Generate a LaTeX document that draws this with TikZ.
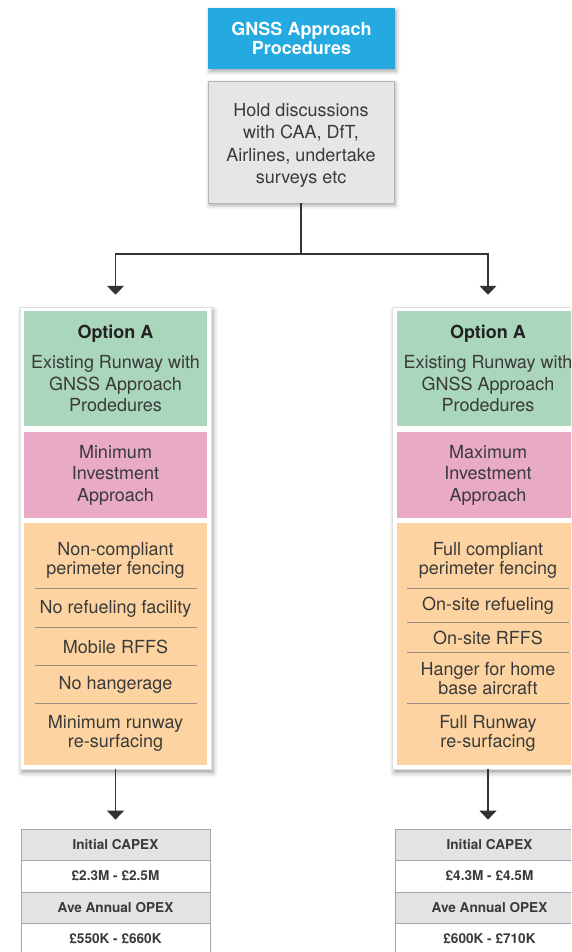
\documentclass[tikz,border=0pt]{standalone}
\usepackage{fontspec}
\setmainfont{TeX Gyre Heros}
\usetikzlibrary{arrows.meta,shadows.blur}

\definecolor{gnssblue}{HTML}{25A9E1}
\definecolor{boxgray}{HTML}{E6E6E7}
\definecolor{boxedge}{HTML}{B4B4B6}
\definecolor{optgreen}{HTML}{AAD6BB}
\definecolor{optpink}{HTML}{E8AAC4}
\definecolor{optorange}{HTML}{FDD4A1}
\definecolor{sepline}{HTML}{9A8E82}
\definecolor{inktext}{HTML}{3A3A3A}
\definecolor{darkink}{HTML}{222222}
\definecolor{headgray}{HTML}{E3E3E4}
\definecolor{tableedge}{HTML}{A6A6A8}
\definecolor{wire}{HTML}{333333}

\begin{document}
\begin{tikzpicture}[x=1pt,y=-1pt,
  bodyfont/.style={font=\fontsize{18}{21.5}\selectfont},
  softshadow/.style={blur shadow={shadow xshift=1.5pt,shadow yshift=-2.5pt,
      shadow blur radius=4pt,shadow opacity=35}},
  titlebox/.style={rectangle,fill=gnssblue,text=white,align=center,inner sep=0pt,
      minimum width=187pt,minimum height=61pt,softshadow,
      font=\bfseries\fontsize{18}{19}\selectfont},
  discussbox/.style={rectangle,fill=boxgray,draw=boxedge,line width=0.6pt,
      inner sep=0pt,minimum width=186pt,minimum height=122pt,softshadow},
  discusstext/.style={align=center,inner sep=0pt,text=inktext,
      font=\fontsize{18}{22.3}\selectfont},
  panel/.style={rectangle,fill=white,draw=black!12,line width=0.5pt,inner sep=0pt,
      minimum width=191pt,minimum height=462pt,
      blur shadow={shadow xshift=2pt,shadow yshift=-3.5pt,
      shadow blur radius=5pt,shadow opacity=40}},
  section/.style={rectangle,inner sep=0pt,minimum width=183pt,align=center,
      text=inktext,bodyfont},
  optionbox/.style={section,fill=optgreen,minimum height=115pt},
  approachbox/.style={section,fill=optpink,minimum height=86pt},
  itembox/.style={section,fill=optorange,minimum height=242pt},
  item/.style={align=center,inner sep=0pt,text=inktext,
      font=\fontsize{18}{19}\selectfont},
  sep/.style={draw=sepline,line width=0.8pt},
  cell/.style={rectangle,draw=tableedge,line width=0.8pt,inner sep=0pt,
      minimum width=189pt,text=inktext,font=\bfseries\fontsize{13.6}{15}\selectfont},
  headcell/.style={cell,fill=headgray,minimum height=31pt},
  valuecell/.style={cell,fill=white,minimum height=32pt},
  conn/.style={draw=wire,line width=1.2pt},
  arr/.style={conn,-{Triangle[width=17pt,length=9pt]}}
]
\useasboundingbox (0,0) rectangle (571,952);
\clip (0,0) rectangle (571,952);

% header and discussion step
\node[titlebox] (title) at (301.5,38.5) {GNSS Approach\\Procedures};
\node[discussbox] (discuss) at (301,142) {};
\node[discusstext] (discusslines) at (301,145.5)
  {Hold discussions\\with CAA, DfT,\\Airlines, undertake\\surveys etc};

% option panels
\node[panel] (leftpanel)  at (115.5,538) {};
\node[panel] (rightpanel) at (488,538) {};

% left option
\node[optionbox] (leftopt) at (115.5,368.5)
  {\textcolor{darkink}{\bfseries Option A}\\[9pt]Existing Runway with\\GNSS Approach\\Prodedures};
\node[approachbox] (leftappr) at (115.5,475) {Minimum\\Investment\\Approach};
\node[itembox] (leftitems) at (115.5,644) {};
\node[item] (li1) at (115.5,560.5) {Non-compliant\\perimeter fencing};
\node[item] (li2) at (115.5,608.5) {No refueling facility};
\node[item] (li3) at (115.5,647) {Mobile RFFS};
\node[item] (li4) at (115.5,685) {No hangerage};
\node[item] (li5) at (115.5,733) {Minimum runway\\re-surfacing};
\foreach \yy in {588,627,665,703}
  \draw[sep] (34.5,\yy) -- (196.5,\yy);

% right option
\node[optionbox] (rightopt) at (488,368.5)
  {\textcolor{darkink}{\bfseries Option A}\\[9pt]Existing Runway with\\GNSS Approach\\Prodedures};
\node[approachbox] (rightappr) at (488,475) {Maximum\\Investment\\Approach};
\node[itembox] (rightitems) at (488,644) {};
\node[item] (ri1) at (488,560.5) {Full compliant\\perimeter fencing};
\node[item] (ri2) at (488,606) {On-site refueling};
\node[item] (ri3) at (488,638) {On-site RFFS};
\node[item] (ri4) at (488,678.5) {Hanger for home\\base aircraft};
\node[item] (ri5) at (488,733) {Full Runway\\re-surfacing};
\foreach \yy in {588,622,652,703}
  \draw[sep] (407,\yy) -- (569,\yy);

% cost tables
\node[headcell]  (lcapexh) at (115.5,844.5) {Initial CAPEX};
\node[valuecell] (lcapex)  at (115.5,876)   {£2.3M - £2.5M};
\node[headcell]  (lopexh)  at (115.5,907.5) {Ave Annual OPEX};
\node[valuecell] (lopex)   at (115.5,939)   {£550K - £660K};

\node[headcell]  (rcapexh) at (489.5,844.5) {Initial CAPEX};
\node[valuecell] (rcapex)  at (489.5,876)   {£4.3M - £4.5M};
\node[headcell]  (ropexh)  at (489.5,907.5) {Ave Annual OPEX};
\node[valuecell] (ropex)   at (489.5,939)   {£600K - £710K};

% connectors
\coordinate (branch) at (301,254);
\draw[conn] (discuss.south) -- (branch);
\draw[arr,shorten >=12pt] (branch) -| (leftpanel.north);
\draw[arr,shorten >=12pt] (branch) -| (rightpanel.north);
\draw[arr,shorten >=9pt] (leftpanel.south) -- (leftpanel.south |- lcapexh.north);
\draw[arr,shorten >=9pt] (rightpanel.south) -- (rightpanel.south |- rcapexh.north);
\end{tikzpicture}
\end{document}
